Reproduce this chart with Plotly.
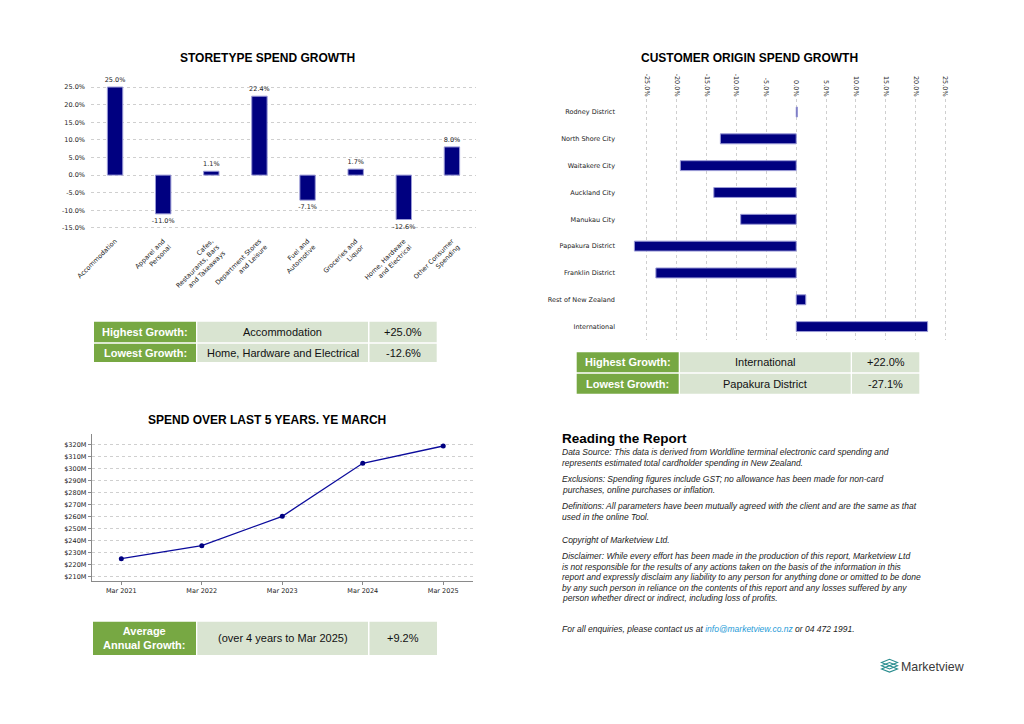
import plotly.graph_objects as go

W, H = 1024, 724

# ---------------- data ----------------
store_types = [
    "Accommodation", "Apparel and<br>Personal", "Cafes,<br>Restaurants, Bars<br>and Takeaways",
    "Department Stores<br>and Leisure", "Fuel and<br>Automotive", "Groceries and<br>Liquor",
    "Home, Hardware<br>and Electrical", "Other Consumer<br>Spending",
]
store_growth = [25.0, -11.0, 1.1, 22.4, -7.1, 1.7, -12.6, 8.0]
store_ticks = [-15, -10, -5, 0, 5, 10, 15, 20, 25]

origins = [
    "Rodney District", "North Shore City", "Waitakere City", "Auckland City", "Manukau City",
    "Papakura District", "Franklin District", "Rest of New Zealand", "International",
]
origin_growth = [0.2, -12.7, -19.4, -13.8, -9.3, -27.1, -23.5, 1.6, 22.0]
origin_ticks = [-25, -20, -15, -10, -5, 0, 5, 10, 15, 20, 25]

years = ["Mar 2021", "Mar 2022", "Mar 2023", "Mar 2024", "Mar 2025"]
spend_m = [225.0, 235.8, 260.3, 304.5, 318.9]
spend_ticks = [210, 220, 230, 240, 250, 260, 270, 280, 290, 300, 310, 320]

store_table = [["Highest Growth:", "Accommodation", "+25.0%"],
               ["Lowest Growth:", "Home, Hardware and Electrical", "-12.6%"]]
origin_table = [["Highest Growth:", "International", "+22.0%"],
                ["Lowest Growth:", "Papakura District", "-27.1%"]]
growth_table = [["Average<br>Annual Growth:", "(over 4 years to Mar 2025)", "+9.2%"]]

report_title = "Reading the Report"
report_lines = [
    "Data Source: This data is derived from Worldline terminal electronic card spending and",
    "represents estimated total cardholder spending in New Zealand.",
    "Exclusions: Spending figures include GST; no allowance has been made for non-card",
    "purchases, online purchases or inflation.",
    "Definitions: All parameters have been mutually agreed with the client and are the same as that",
    "used in the online Tool.",
    "Copyright of Marketview Ltd.",
    "Disclaimer: While every effort has been made in the production of this report, Marketview Ltd",
    "is not responsible for the results of any actions taken on the basis of the information in this",
    "report and expressly disclaim any liability to any person for anything done or omitted to be done",
    "by any such person in reliance on the contents of this report and any losses suffered by any",
    "person whether direct or indirect, including loss of profits.",
    "For all enquiries, please contact us at <span style='color:#1f9bd7'>info@marketview.co.nz</span> or 04 472 1991.",
]
report_y = [452, 462.7, 479.3, 490, 506, 516.7, 540, 556, 566.5, 577, 587.5, 598.3, 629.3]

# ---------------- styles ----------------
NAVY = "#000080"
EDGE = "#9a9ad6"
GRID = "#cfcfcf"
TICKF = dict(family="DejaVu Sans", size=6.5, color="#222222")
SANS = "Liberation Sans, Arial, sans-serif"
GREEN = "#77a843"
LIGHT = "#d9e4d1"


def dx(a, b):
    return [a / W, b / W]


def dy(top, bottom):
    return [1 - bottom / H, 1 - top / H]


def px(x):
    return x / W


def py(y):
    return 1 - y / H


fig = go.Figure()

fig.add_trace(go.Bar(
    x=store_types, y=store_growth, width=0.32,
    marker=dict(color=NAVY, line=dict(color=EDGE, width=1)),
    text=[f"{v:.1f}%" for v in store_growth], textposition="outside",
    textfont=TICKF, constraintext="none", cliponaxis=False,
    xaxis="x", yaxis="y", hoverinfo="skip",
))

fig.add_trace(go.Bar(
    y=origins, x=origin_growth, orientation="h", width=0.37,
    marker=dict(color=NAVY, line=dict(color=EDGE, width=1)),
    xaxis="x2", yaxis="y2", hoverinfo="skip",
))

fig.add_trace(go.Scatter(
    x=years, y=spend_m, mode="lines+markers",
    line=dict(color="#0c0c9c", width=1.3), marker=dict(color=NAVY, size=5),
    xaxis="x3", yaxis="y3", hoverinfo="skip",
))

common = dict(gridcolor=GRID, griddash="3px,3px", gridwidth=1, automargin=False, fixedrange=True)
plain = dict(automargin=False, fixedrange=True)

fig.update_layout(
    width=W, height=H, margin=dict(l=0, r=0, t=0, b=0, autoexpand=False),
    paper_bgcolor="white", plot_bgcolor="white", showlegend=False,
    xaxis=dict(domain=dx(91, 476), anchor="y", type="category", range=[-0.5, 7.5],
               tickangle=-45, tickfont=TICKF, showgrid=False, showline=False, ticks="",
               zeroline=False, **plain),
    yaxis=dict(domain=dy(80, 235), anchor="x", range=[-17, 27], tickvals=store_ticks,
               ticktext=[f"{v:.1f}%" for v in store_ticks], tickfont=TICKF,
               showgrid=True, zeroline=False, showline=False, ticks="",
               ticklabelstandoff=5, **common),
    xaxis2=dict(domain=dx(629, 951.5), anchor="y2", side="top", range=[-28, 26],
                tickvals=origin_ticks, ticktext=[f"{v:.1f}%" for v in origin_ticks],
                tickangle=90, tickfont=TICKF, showgrid=True, zeroline=False,
                showline=False, ticks="", **common),
    yaxis2=dict(domain=dy(98.6, 340), anchor="x2", type="category",
                categoryorder="array", categoryarray=origins, range=[8.5, -0.5],
                tickfont=TICKF, showgrid=False, zeroline=False, showline=False,
                ticks="", ticklabelstandoff=13, **plain),
    xaxis3=dict(domain=dx(91.7, 473), anchor="y3", type="category", range=[-0.368, 4.37],
                tickfont=TICKF, showgrid=False, zeroline=False, showline=True,
                linecolor="#8a8a8a", linewidth=1, ticks="outside", ticklen=3,
                tickcolor="#8a8a8a", **plain),
    yaxis3=dict(domain=dy(434, 581), anchor="x3", range=[206.4, 328.9],
                tickvals=spend_ticks, ticktext=[f"${v}M" for v in spend_ticks],
                tickfont=TICKF, showgrid=True, zeroline=False, showline=True,
                linecolor="#8a8a8a", linewidth=1, ticks="outside", ticklen=3,
                tickcolor="#8a8a8a", **common),
)

annotations = []
shapes = []


def title(text, xc, yc):
    annotations.append(dict(text=f"<b>{text}</b>", x=px(xc), y=py(yc), xref="paper", yref="paper",
                            xanchor="center", yanchor="middle", showarrow=False,
                            font=dict(family=SANS, size=12, color="#000")))


title("STORETYPE SPEND GROWTH", 267, 58)
title("CUSTOMER ORIGIN SPEND GROWTH", 749, 58)
title("SPEND OVER LAST 5 YEARS. YE MARCH", 267, 420)


def table(rows, cols, row_edges):
    for r, row in enumerate(rows):
        y0, y1 = row_edges[r]
        for c, val in enumerate(row):
            x0, x1 = cols[c]
            shapes.append(dict(type="rect", xref="paper", yref="paper",
                               x0=px(x0), x1=px(x1), y0=py(y1), y1=py(y0),
                               fillcolor=GREEN if c == 0 else LIGHT, line=dict(width=0), layer="below"))
            txt = f"<b>{val}</b>" if c == 0 else val
            annotations.append(dict(text=txt, x=px((x0 + x1) / 2), y=py((y0 + y1) / 2),
                                    xref="paper", yref="paper", xanchor="center", yanchor="middle",
                                    showarrow=False, align="center",
                                    font=dict(family=SANS, size=11, color="white" if c == 0 else "#111")))


table(store_table, [(94, 196), (197.3, 368), (369.5, 436.7)], [(321.7, 342.3), (343.7, 362)])
table(origin_table, [(576.7, 678.7), (680, 850.7), (852, 919.3)], [(352.3, 372.3), (373.7, 393.7)])
table(growth_table, [(93, 196), (197.3, 368), (369.5, 437)], [(621.7, 655)])

annotations.append(dict(text=f"<b>{report_title}</b>", x=px(560), y=py(438.5), xref="paper", yref="paper",
                        xanchor="left", yanchor="middle", showarrow=False,
                        font=dict(family=SANS, size=13.5, color="#000")))
for line, yy in zip(report_lines, report_y):
    annotations.append(dict(text=f"<i>{line}</i>", x=px(560), y=py(yy), xref="paper", yref="paper",
                            xanchor="left", yanchor="middle", showarrow=False,
                            font=dict(family=SANS, size=8.5, color="#222")))

# logo
annotations.append(dict(text="Marketview", x=px(899), y=py(666.5), xref="paper", yref="paper",
                        xanchor="left", yanchor="middle", showarrow=False,
                        font=dict(family=SANS, size=12.4, color="#3a3a3a")))
TEAL = "#2a8d8f"
cx, cy = 889.5, 662.5
for k in range(3):
    yo = cy + k * 3.2
    path = (f"M {px(cx-8)} {py(yo)} L {px(cx)} {py(yo-3.2)} L {px(cx+8)} {py(yo)} "
            f"L {px(cx)} {py(yo+3.2)} Z")
    shapes.append(dict(type="path", xref="paper", yref="paper", path=path,
                       line=dict(color=TEAL, width=1.1), fillcolor="rgba(0,0,0,0)"))

fig.update_layout(annotations=annotations, shapes=shapes)

fig.write_html("out.html", config={"displayModeBar": False, "staticPlot": True},
               post_script="document.body.style.margin='0';document.body.style.overflow='hidden';")
